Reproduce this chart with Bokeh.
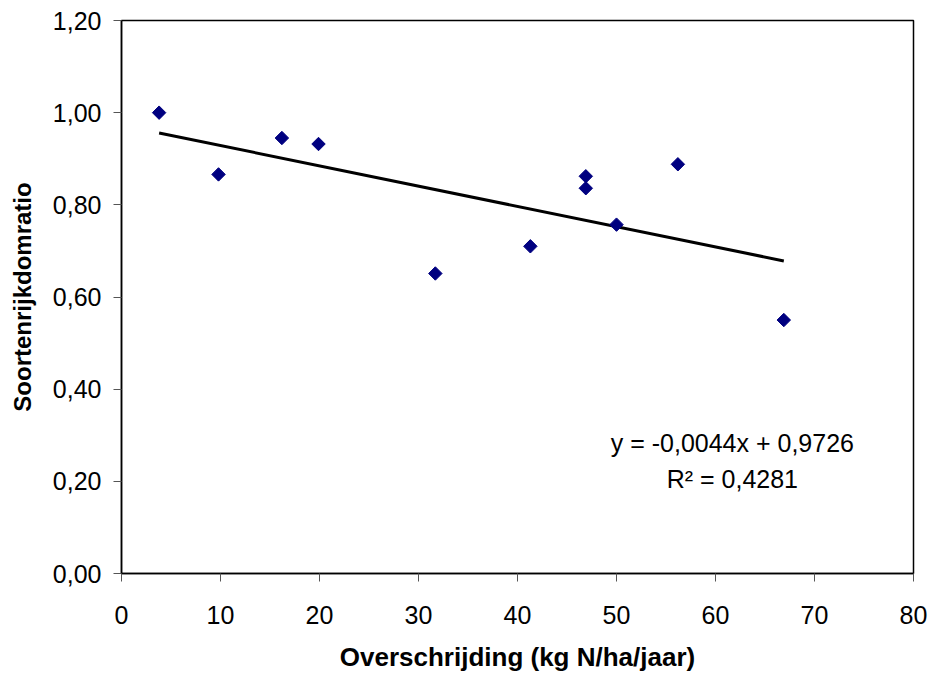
import numpy as np
from bokeh.plotting import figure
from bokeh.models import FixedTicker, Range1d, Label
from bokeh.embed import file_html
from bokeh.resources import INLINE

# --- data ---
overschrijding = [3.8, 9.8, 16.2, 19.9, 31.7, 41.3, 46.9, 46.9, 50.0, 56.2, 66.9]
ratio = [1.000, 0.866, 0.945, 0.932, 0.651, 0.710, 0.862, 0.836, 0.757, 0.888, 0.550]

x_ticks = [0, 10, 20, 30, 40, 50, 60, 70, 80]
y_ticks = [0.0, 0.2, 0.4, 0.6, 0.8, 1.0, 1.2]
y_tick_labels = ["0,00", "0,20", "0,40", "0,60", "0,80", "1,00", "1,20"]

slope = -0.0044
intercept = 0.9726
equation_text = "y = -0,0044x + 0,9726"
r2_text = "R\u00b2 = 0,4281"

x_label = "Overschrijding (kg N/ha/jaar)"
y_label = "Soortenrijkdomratio"

FONT = "Liberation Sans"

p = figure(width=928, height=674, output_backend="svg", toolbar_location=None,
           x_range=Range1d(0, 80), y_range=Range1d(0, 1.2),
           min_border_left=121, min_border_right=15, min_border_top=20, min_border_bottom=94)
p.background_fill_color = "white"
p.border_fill_color = "white"
p.outline_line_color = "black"
p.outline_line_width = 1.5
p.xgrid.visible = False
p.ygrid.visible = False

for ax in (p.xaxis[0], p.yaxis[0]):
    ax.axis_line_color = "black"
    ax.axis_line_width = 1.5
    ax.major_tick_line_color = "#555555"
    ax.major_tick_line_width = 1
    ax.major_tick_out = 8
    ax.major_tick_in = 0
    ax.minor_tick_line_color = None
    ax.major_label_text_font = FONT
    ax.major_label_text_font_size = "25px"
    ax.major_label_text_color = "black"
    ax.axis_label_text_font = FONT
    ax.axis_label_text_font_style = "bold"
    ax.axis_label_text_color = "black"

p.xaxis.axis_label_text_font_size = "26px"
p.yaxis.axis_label_text_font_size = "24px"
p.xaxis.ticker = FixedTicker(ticks=x_ticks)
p.yaxis.ticker = FixedTicker(ticks=y_ticks)
p.yaxis.major_label_overrides = {t: l for t, l in zip(y_ticks, y_tick_labels)}
p.xaxis.axis_label = x_label
p.yaxis.axis_label = y_label
p.xaxis.major_label_standoff = 24
p.yaxis.major_label_standoff = 12
p.xaxis.axis_label_standoff = 15
p.yaxis.axis_label_standoff = 14

# trend line
xs = np.array([min(overschrijding), max(overschrijding)])
p.line(xs, slope * xs + intercept, line_color="black", line_width=3)

# points
p.scatter(overschrijding, ratio, marker="square", angle=np.pi / 4, size=9.5,
          fill_color="#000080", line_color="#000080")

p.add_layout(Label(x=61.7, y=0.284, text=equation_text, text_align="center",
                   text_baseline="middle", text_font=FONT, text_font_size="25px",
                   text_color="black"))
p.add_layout(Label(x=61.7, y=0.206, text=r2_text, text_align="center",
                   text_baseline="middle", text_font=FONT, text_font_size="25px",
                   text_color="black"))

open("out.html", "w").write(file_html(p, INLINE))
